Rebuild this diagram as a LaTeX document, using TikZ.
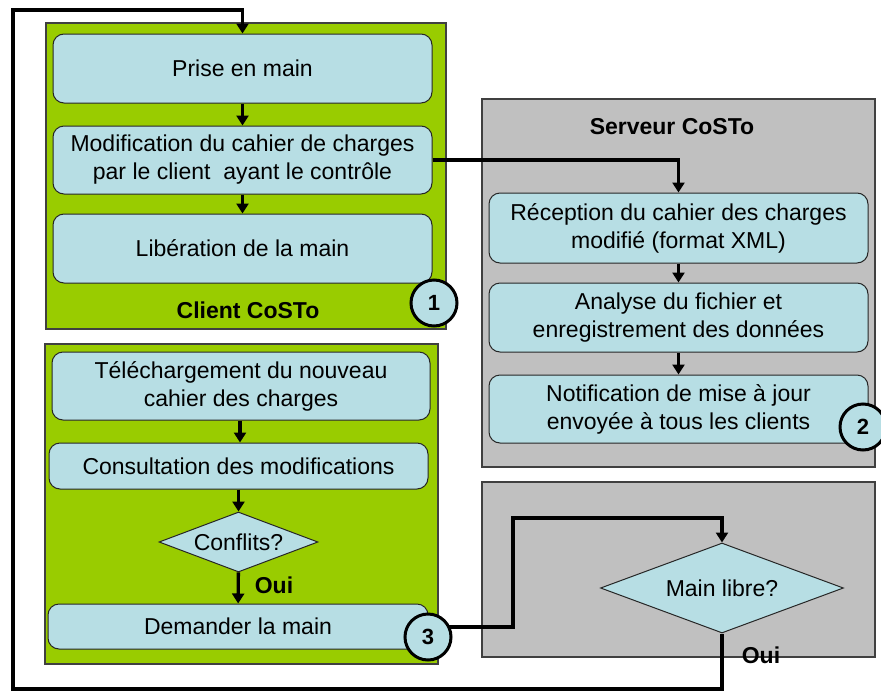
\documentclass[tikz,border=0pt]{standalone}
\usepackage{fontspec}
\setmainfont{Liberation Sans}
\usetikzlibrary{arrows.meta,shapes.geometric}
\definecolor{boxblue}{RGB}{183,222,228}
\definecolor{cgreen}{RGB}{153,204,0}
\definecolor{sgray}{RGB}{192,192,192}
\begin{document}
\begin{tikzpicture}[x=1pt,y=-1pt,
  txt/.style={font=\fontsize{23}{28}\selectfont},
  btxt/.style={font=\fontsize{23}{28}\selectfont\bfseries, inner sep=0pt},
  lanegreen/.style={draw=black!75, line width=1.2pt, fill=cgreen, inner sep=0pt},
  lanegray/.style={draw=black!75, line width=1.2pt, fill=sgray, inner sep=0pt},
  stepbox/.style={txt, draw=black!85, line width=1pt, fill=boxblue, rounded corners=11pt,
    inner sep=0pt, align=center, minimum width=#1},
  stepbox/.default=379pt,
  decision/.style={txt, diamond, draw=black!85, line width=1pt, fill=boxblue, inner sep=0pt},
  badge/.style={circle, draw=black, line width=3pt, fill=boxblue, minimum size=46pt,
    inner sep=0pt, font=\fontsize{22}{22}\selectfont\bfseries},
  flow/.style={line width=3.4pt, -{Triangle[width=12pt,length=10pt]}}
]
\useasboundingbox (0,0) rectangle (881,691);

% lanes
\node[lanegreen, minimum width=400pt, minimum height=306pt] (laneA) at (246,176) {};
\node[lanegray, minimum width=393pt, minimum height=368pt] (laneB) at (678.5,283) {};
\node[lanegreen, minimum width=393pt, minimum height=320pt] (laneC) at (241.5,504) {};
\node[lanegray, minimum width=393pt, minimum height=175pt] (laneD) at (678.5,569.5) {};

% lane titles
\node[btxt] (tA) at (248,310) {Client CoSTo};
\node[btxt] (tB) at (672,127) {Serveur CoSTo};

% client steps
\node[stepbox, minimum height=69pt] (prise) at (242.5,68.5) {Prise en main};
\node[stepbox, minimum height=68pt] (modif) at (242.5,160) {Modification du cahier de charges\\par le client\ \ ayant le contrôle};
\node[stepbox, minimum height=69pt] (liber) at (242.5,248.5) {Libération de la main};

% server steps
\node[stepbox, minimum height=70pt] (recep) at (678.5,228) {Réception du cahier des charges\\modifié (format XML)};
\node[stepbox, minimum height=69pt] (analy) at (678.5,317.5) {Analyse du fichier et\\enregistrement des données};
\node[stepbox, minimum height=68pt] (notif) at (678.5,409) {Notification de mise à jour\\envoyée à tous les clients};

% client steps (second lane)
\node[stepbox=378pt, minimum height=68pt] (tele) at (241,386) {Téléchargement du nouveau\\cahier des charges};
\node[stepbox=379pt, minimum height=46pt] (consu) at (238.5,466) {Consultation des modifications};
\node[decision, shape aspect=2.65, minimum width=159pt, minimum height=60pt] (confl) at (238.5,542) {Conflits?};
\node[stepbox=380pt, minimum height=45pt] (deman) at (238,626.5) {Demander la main};

% server decision
\node[decision, shape aspect=2.7, minimum width=243pt, minimum height=90pt] (mlib) at (722,588) {Main libre?};

% labels
\node[btxt] (oui1) at (274,585) {Oui};

% connector corner coordinates
\coordinate (loopBL) at (13,689);
\coordinate (loopTL) at (13,10);
\coordinate (k1) at (513,627);
\coordinate (k2) at (513,518);
\coordinate (xt) at (240,0);
\coordinate (c3c) at (428,637);

% connectors
\draw[flow] (prise) -- (modif);
\draw[flow] (modif) -- (liber);
\draw[flow] (modif.east) -| (recep.north);
\draw[flow] (recep) -- (analy);
\draw[flow] (analy) -- (notif);
\draw[flow] (tele.south -| xt) -- (consu.north -| xt);
\draw[flow] (consu) -- (confl);
\draw[flow] (confl) -- (deman);
\draw[flow] (mlib.south) |- (loopBL) -- (loopTL) -| (prise.north);
\draw[flow] (c3c |- k1) -| (k2) -| (mlib.north);

% badges
\node[badge] (c1) at (434,303) {1};
\node[badge] (c2) at (863,427) {2};
\node[badge] (c3) at (c3c) {3};

\node[btxt] (oui2) at (761,655) {Oui};
\end{tikzpicture}
\end{document}
